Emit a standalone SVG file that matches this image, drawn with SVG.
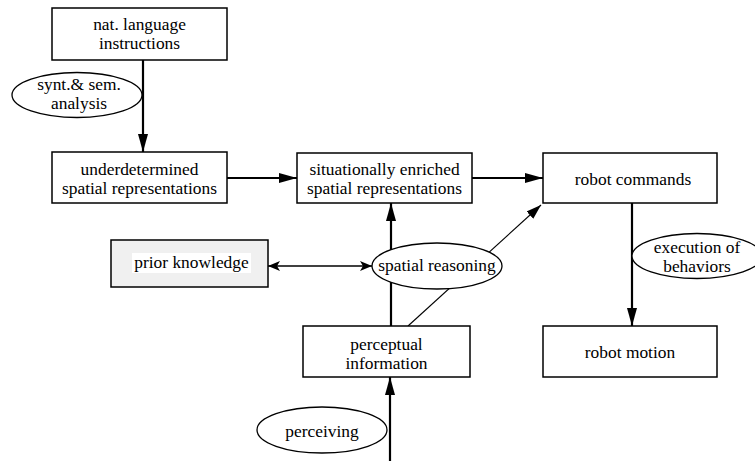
<svg xmlns="http://www.w3.org/2000/svg" width="755" height="461" viewBox="0 0 755 461">
<style>
.box{fill:#fff;stroke:#000;stroke-width:1.5}
.gray{fill:#f0f0f0;stroke:#000;stroke-width:1.5}
.ell{fill:#fff;stroke:#000;stroke-width:1.3}
.t{font-family:'Liberation Serif',Tinos,'DejaVu Serif','Times New Roman',serif;font-size:17.4px;fill:#000;text-anchor:middle}
.c{fill:none;stroke:#000}
.thick{stroke-width:2.2}
.mid{stroke-width:1.5}
.thin{stroke-width:1.1}
</style>
<defs>
<marker id="ah" markerUnits="userSpaceOnUse" markerWidth="18" markerHeight="10" refX="18" refY="5" orient="auto">
<path d="M0,0 L18,5 L0,10 z" fill="#000"/>
</marker>
<marker id="ahs" markerUnits="userSpaceOnUse" markerWidth="15" markerHeight="10" refX="15" refY="5" orient="auto">
<path d="M0,0 L15,5 L0,10 z" fill="#000"/>
</marker>
<marker id="bar" markerUnits="userSpaceOnUse" markerWidth="12" markerHeight="10" refX="12" refY="5" orient="auto-start-reverse">
<path d="M0,0 L12,5 L0,10 L3,5 z" fill="#000"/>
</marker>
</defs>
<g id="connectors">
<path class="c thick" d="M143,60 V152" marker-end="url(#ah)"/>
<path class="c thick" d="M227,178 H297" marker-end="url(#ah)"/>
<path class="c thick" d="M472,178 H543" marker-end="url(#ah)"/>
<path class="c thick" d="M391,326 V203" marker-end="url(#ah)"/>
<path class="c thick" d="M390,461 V377" marker-end="url(#ah)"/>
<path class="c thick" d="M632,203 V326" marker-end="url(#ah)"/>
<path class="c thin" d="M408,326 L541,205" marker-end="url(#ahs)"/>
<path class="c mid" d="M268,266 H372" marker-start="url(#bar)" marker-end="url(#bar)"/>
</g>
<g id="nat-language">
<rect class="box" x="52" y="8" width="175" height="52"/>
<text class="t" x="139.5" y="29.5">nat. language</text>
<text class="t" x="139.5" y="48.5">instructions</text>
</g>
<g id="synt-sem">
<ellipse class="ell" cx="77" cy="95" rx="65" ry="22.5"/>
<text class="t" x="79" y="89.5">synt.&amp; sem.</text>
<text class="t" x="79" y="108.5">analysis</text>
</g>
<g id="underdetermined">
<rect class="box" x="52" y="152" width="175" height="51"/>
<text class="t" x="139.5" y="174.5">underdetermined</text>
<text class="t" x="139.5" y="193.5">spatial representations</text>
</g>
<g id="enriched">
<rect class="box" x="297" y="153" width="175" height="50"/>
<text class="t" x="384.5" y="174.5">situationally enriched</text>
<text class="t" x="384.5" y="193.5">spatial representations</text>
</g>
<g id="robot-commands">
<rect class="box" x="543" y="153" width="174" height="50"/>
<text class="t" x="633" y="185">robot commands</text>
</g>
<g id="prior-knowledge">
<rect class="gray" x="111" y="240" width="157" height="47"/>
<rect x="132" y="253" width="119" height="20" fill="#fff"/>
<text class="t" x="191.5" y="268">prior knowledge</text>
</g>
<g id="spatial-reasoning">
<ellipse class="ell" cx="437" cy="266" rx="65" ry="23"/>
<text class="t" x="437" y="271">spatial reasoning</text>
</g>
<g id="execution">
<ellipse class="ell" cx="697" cy="256" rx="65" ry="22.5"/>
<text class="t" x="697" y="252.5">execution of</text>
<text class="t" x="697" y="271.5">behaviors</text>
</g>
<g id="perceptual">
<rect class="box" x="303" y="326" width="167" height="51"/>
<text class="t" x="386.5" y="349.5">perceptual</text>
<text class="t" x="386.5" y="368.5">information</text>
</g>
<g id="robot-motion">
<rect class="box" x="543" y="326" width="174" height="51"/>
<text class="t" x="630" y="358">robot motion</text>
</g>
<g id="perceiving">
<ellipse class="ell" cx="322" cy="430" rx="65" ry="23"/>
<text class="t" x="322" y="437">perceiving</text>
</g>
</svg>
